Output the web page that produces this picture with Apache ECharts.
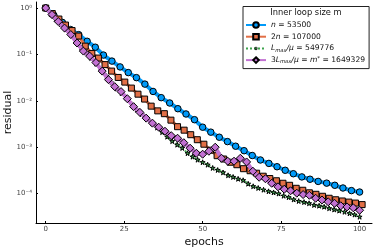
<!DOCTYPE html>
<html>
<head>
<meta charset="utf-8">
<script src="https://cdn.jsdelivr.net/npm/echarts@6/dist/echarts.min.js"></script>
<style>html,body{margin:0;padding:0;background:#fff}#c{width:374px;height:249px}</style>
</head>
<body>
<div id="c"></div>
<script>
// ---- data ----
const xTicks = [0, 25, 50, 75, 100];
const yTickExps = [-4, -3, -2, -1, 0];

const seriesNames = ['n = 53500', '2n = 107000', 'Lmax/μ = 549776', '3Lmax/μ = m* = 1649329'];

const epochsN = [0,2.6,5.3,7.9,10.5,13.2,15.8,18.4,21.1,23.7,26.3,28.9,31.6,34.2,36.8,39.5,42.1,44.7,47.4,50,52.6,55.3,57.9,60.5,63.2,65.8,68.4,71.1,73.7,76.3,78.9,81.6,84.2,86.8,89.5,92.1,94.7,97.4,100];
const residualN = [1,0.70,0.491,0.344,0.267,0.192,0.143,0.0968,0.0718,0.0538,0.0406,0.0316,0.0229,0.0159,0.0117,0.00897,0.00676,0.0052,0.00392,0.0027,0.00211,0.00164,0.00132,0.00105,0.000841,0.000662,0.00053,0.000447,0.000379,0.000318,0.000268,0.000229,0.000204,0.000183,0.000168,0.000151,0.000132,0.000116,0.000108];

const epochs2N = [0,2.1,4.2,6.3,8.4,10.5,12.6,14.7,16.8,18.9,21,23.1,25.2,27.3,29.4,31.5,33.6,35.7,37.8,39.9,42,44.1,46.2,48.3,50.4,52.5,54.6,56.7,58.8,60.9,63,65.1,67.2,69.3,71.4,73.5,75.6,77.7,79.8,81.9,84,86.1,88.2,90.3,92.4,94.5,96.6,98.7,100.8];
const residual2N = [1,0.76,0.579,0.43,0.327,0.249,0.151,0.105,0.0834,0.0603,0.0437,0.0319,0.0253,0.0188,0.0139,0.0109,0.00767,0.00607,0.00528,0.00383,0.00277,0.00233,0.00186,0.00145,0.00116,0.000861,0.000656,0.000556,0.000474,0.000419,0.000344,0.000311,0.000275,0.000237,0.000211,0.000189,0.000167,0.000151,0.00013,0.000118,0.000104,0.0000966,0.0000875,0.0000793,0.0000736,0.0000693,0.0000656,0.0000624,0.0000579];

const epochsL = [0,1.6,3.2,4.8,6.5,8.1,9.7,11.3,12.9,14.5,16.1,17.7,19.4,21,22.6,24.2,25.8,27.4,29,30.6,32.3,33.9,35.5,37.1,38.7,40.3,41.9,43.5,45.2,46.8,48.4,50,51.6,53.2,54.8,56.5,58.1,59.7,61.3,62.9,64.5,66.1,67.7,69.4,71,72.6,74.2,75.8,77.4,79,80.6,82.3,83.9,85.5,87.1,88.7,90.3,91.9,93.5,95.2,96.8,98.4,100];
const residualL = [1,0.769,0.57,0.447,0.347,0.268,0.199,0.14,0.11,0.0834,0.0634,0.0459,0.034,0.0247,0.0183,0.0146,0.0114,0.00847,0.00644,0.00515,0.00412,0.0033,0.00264,0.00211,0.00168,0.00135,0.00113,0.000962,0.000741,0.000624,0.000537,0.000474,0.000419,0.000357,0.000322,0.000286,0.000248,0.000228,0.000208,0.000194,0.000163,0.000144,0.000132,0.000121,0.000112,0.000106,0.0001,0.0000897,0.0000834,0.0000746,0.000069,0.0000656,0.0000618,0.0000568,0.0000546,0.000052,0.0000482,0.0000454,0.0000428,0.0000404,0.0000376,0.0000352,0.0000316];

const epochs3L = [0,2,4,6,8,10,12,14,16,18,20,22,24,26,28,30,32,34,36,38,40,42,44,46,48,50,52,54,56,58,60,62,64,66,68,70,72,74,76,78,80,82,84,86,88,90,92,94,96,98,100];
const residual3L = [1,0.724,0.512,0.37,0.268,0.176,0.118,0.092,0.0667,0.0437,0.0286,0.0202,0.0158,0.0111,0.00748,0.00564,0.00423,0.0033,0.0027,0.00221,0.00177,0.00156,0.00125,0.000951,0.000741,0.000706,0.000818,0.001,0.000578,0.000499,0.000499,0.000578,0.000481,0.000303,0.000225,0.000209,0.000167,0.00014,0.000124,0.000115,0.000102,0.0000953,0.000092,0.0000793,0.0000728,0.0000665,0.0000618,0.0000546,0.0000516,0.0000494,0.0000437];

// ---- chart ----
const FONT = 'DejaVu Sans';
const sup = {'0':'⁰','1':'¹','2':'²','3':'³','4':'⁴','-':'⁻'};
const supStr = s => String(s).split('').map(c => sup[c] || c).join('');
const toPts = (xs, ys) => xs.map((x, i) => [x, Math.log10(ys[i])]);
// star with invisible padding points so it is drawn smaller than its symbol box
const starPath = 'path://M-32,-34 L-32,-34 M132,125 L132,125 M50,0 L61,35 L98,35 L68,57 L79,91 L50,70 L21,91 L32,57 L2,35 L39,35 Z';

const legendRich = {
  'n = 53500': '{it|n} = 53500',
  '2n = 107000': '2{it|n} = 107000',
  'Lmax/μ = 549776': '{it|L}{sub|max}{it|/μ} = 549776',
  '3Lmax/μ = m* = 1649329': '3{it|L}{sub|max}{it|/μ} = {it|m}{sup|*} = 1649329'
};

const chart = echarts.init(document.getElementById('c'), null, {renderer: 'canvas'});
chart.setOption({
  animation: false,
  backgroundColor: '#fff',
  grid: {left: 36, right: 2, top: 2, bottom: 26, containLabel: false, outerBoundsMode: 'none'},
  xAxis: {
    type: 'value', min: -3.09, max: 103.95,
    name: 'epochs', nameLocation: 'middle', nameGap: 13.5, nameMoveOverlap: false,
    nameTextStyle: {fontFamily: FONT, fontSize: 11, color: '#111'},
    axisLine: {onZero: false, lineStyle: {color: '#000', width: 1}},
    axisTick: {inside: true, length: 2, customValues: xTicks, lineStyle: {color: '#000'}},
    axisLabel: {customValues: xTicks, fontFamily: FONT, fontSize: 7, color: '#444', margin: 3},
    splitLine: {show: false}
  },
  yAxis: {
    type: 'value', min: -4.634, max: 0.13,
    name: 'residual', nameLocation: 'middle', nameGap: 22, nameRotate: 90, nameMoveOverlap: false,
    nameTextStyle: {fontFamily: FONT, fontSize: 11, color: '#111'},
    axisLine: {onZero: false, lineStyle: {color: '#000', width: 1}},
    axisTick: {inside: true, length: 2, customValues: yTickExps, lineStyle: {color: '#000'}},
    axisLabel: {customValues: yTickExps, fontFamily: FONT, fontSize: 7, color: '#444', margin: 4,
      formatter: v => '10' + supStr(Math.round(v))},
    splitLine: {show: false}
  },
  legend: {
    orient: 'vertical', left: 243, top: 6.5, z: 6,
    padding: [14, 4, 4, 2], itemGap: 2.7, itemWidth: 20, itemHeight: 7,
    backgroundColor: '#fff', borderColor: '#222', borderWidth: 1,
    data: [seriesNames[0], seriesNames[1], {name: seriesNames[2], itemStyle: {borderWidth: 0.6}}, seriesNames[3]],
    formatter: name => legendRich[name],
    textStyle: {fontFamily: FONT, fontSize: 7.6, color: '#111', lineHeight: 9,
      rich: {
        it: {fontFamily: FONT, fontSize: 7.6, fontStyle: 'italic', color: '#111'},
        sub: {fontFamily: FONT, fontSize: 5.2, fontStyle: 'italic', color: '#111', verticalAlign: 'bottom'},
        sup: {fontFamily: FONT, fontSize: 5.5, color: '#111', verticalAlign: 'top'}
      }}
  },
  graphic: [{
    type: 'text', x: 306, y: 12.5, z: 100,
    style: {text: 'Inner loop size m', font: '8.3px "DejaVu Sans"', fill: '#111', align: 'center', verticalAlign: 'middle'}
  }],
  series: [
    {name: seriesNames[0], type: 'line', data: toPts(epochsN, residualN),
      color: '#009AF9', lineStyle: {width: 4, color: '#009AF9'},
      symbol: 'circle', symbolSize: 6.5, itemStyle: {color: '#009AF9', borderColor: '#000', borderWidth: 1}, z: 2},
    {name: seriesNames[1], type: 'line', data: toPts(epochs2N, residual2N),
      color: '#E26F46', lineStyle: {width: 3, color: '#E26F46'},
      symbol: 'rect', symbolSize: 6, itemStyle: {color: '#E26F46', borderColor: '#000', borderWidth: 1}, z: 3},
    {name: seriesNames[2], type: 'line', data: toPts(epochsL, residualL),
      color: '#3DA44D', lineStyle: {width: 2, color: '#3DA44D', type: 'dotted'},
      symbol: starPath, symbolSize: 8.5, itemStyle: {color: '#3DA44D', borderColor: '#000', borderWidth: 1}, z: 4},
    {name: seriesNames[3], type: 'line', data: toPts(epochs3L, residual3L),
      color: '#C271D2', lineStyle: {width: 4, color: '#C271D2'},
      symbol: 'diamond', symbolSize: 8, itemStyle: {color: '#C271D2', borderColor: '#000', borderWidth: 1}, z: 5}
  ]
});
</script>
</body>
</html>
